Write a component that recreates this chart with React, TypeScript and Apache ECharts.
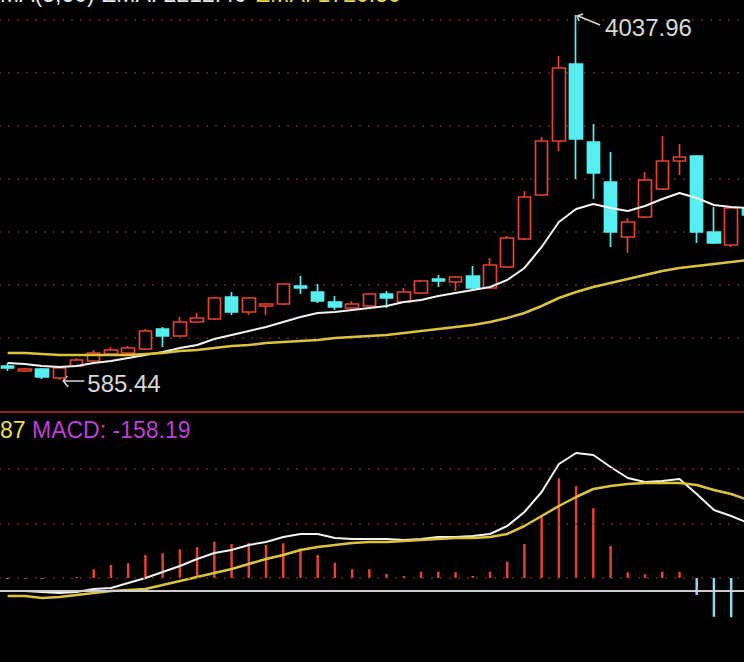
import React, { useEffect, useRef } from "react";
import * as echarts from "echarts";

// Monthly bars (Sep 2012 – Apr 2016)
const months = [
  "2012-09", "2012-10", "2012-11", "2012-12",
  "2013-01", "2013-02", "2013-03", "2013-04", "2013-05", "2013-06", "2013-07", "2013-08", "2013-09", "2013-10", "2013-11", "2013-12",
  "2014-01", "2014-02", "2014-03", "2014-04", "2014-05", "2014-06", "2014-07", "2014-08", "2014-09", "2014-10", "2014-11", "2014-12",
  "2015-01", "2015-02", "2015-03", "2015-04", "2015-05", "2015-06", "2015-07", "2015-08", "2015-09", "2015-10", "2015-11", "2015-12",
  "2016-01", "2016-02", "2016-03", "2016-04",
];

const opens = [
  717.9, 670.6, 689.5, 604.4, 717.9, 765.2, 831.4, 840.8, 878.7, 1067.9,
  1001.6, 1134.1, 1162.4, 1370.5, 1228.7, 1285.4, 1304.3, 1474.6, 1417.8, 1323.2,
  1266.5, 1285.4, 1398.9, 1323.2, 1408.4, 1540.8, 1512.4, 1569.2, 1455.7, 1654.3,
  1919.2, 2335.4, 2846.1, 3574.5, 2836.7, 2458.3, 1938.1, 2127.3, 2392.1, 2657.0,
  2704.3, 1985.4, 1862.4, 2212.4,
];
const closes = [
  699.0, 689.5, 613.8, 699.0, 774.6, 840.8, 869.2, 888.1, 1048.9, 1001.6,
  1134.1, 1171.9, 1361.1, 1228.7, 1361.1, 1304.3, 1493.5, 1455.7, 1332.7, 1276.0,
  1304.3, 1398.9, 1361.1, 1417.8, 1521.9, 1521.9, 1559.7, 1455.7, 1673.2, 1928.6,
  2316.4, 2846.1, 3536.6, 2865.1, 2543.5, 1985.4, 2080.0, 2477.2, 2657.0, 2694.8,
  1985.4, 1881.3, 2212.4, 2146.2,
];
const lows = [
  670.6, 661.1, 594.9, 585.44, 708.4, 755.7, 821.9, 831.4, 869.2, 897.6,
  992.2, 1124.6, 1153.0, 1200.3, 1200.3, 1200.3, 1294.9, 1398.9, 1313.8, 1247.6,
  1247.6, 1276.0, 1266.5, 1313.8, 1398.9, 1465.1, 1427.3, 1436.8, 1446.2, 1644.9,
  1909.7, 2325.9, 2751.6, 2486.7, 2297.5, 1843.5, 1786.7, 2117.8, 2382.7, 2524.5,
  1881.3, 1871.9, 1843.5, 2136.7,
];
const highs = [
  746.2, 699.0, 699.0, 708.4, 793.5, 869.2, 897.6, 907.0, 1067.9, 1086.8,
  1181.4, 1219.2, 1370.5, 1417.8, 1370.5, 1313.8, 1503.0, 1569.2, 1493.5, 1380.0,
  1332.7, 1408.4, 1427.3, 1455.7, 1531.3, 1578.6, 1569.2, 1663.8, 1739.4, 1947.5,
  2373.2, 2884.0, 3650.2, 4037.96, 3006.9, 2742.1, 2117.8, 2552.9, 2893.4, 2817.8,
  2713.7, 2221.9, 2221.9, 2231.3,
];

const emaShort = [
  746.2, 736.8, 717.9, 708.4, 717.9, 746.2, 765.2, 793.5, 821.9, 850.3,
  888.1, 916.5, 973.3, 1011.1, 1048.9, 1086.8, 1134.1, 1181.4, 1219.2, 1228.7,
  1247.6, 1266.5, 1285.4, 1323.2, 1342.2, 1380.0, 1408.4, 1436.8, 1465.1, 1531.3,
  1644.9, 1843.5, 2080.0, 2202.9, 2250.2, 2212.4, 2184.0, 2231.3, 2297.5, 2354.3,
  2307.0, 2240.8, 2221.9, 2212.4,
];
const emaLong = [
  840.8, 840.8, 831.4, 821.9, 821.9, 821.9, 821.9, 821.9, 831.4, 840.8,
  859.8, 869.2, 888.1, 907.0, 916.5, 935.4, 944.9, 954.3, 963.8, 982.7,
  992.2, 1001.6, 1011.1, 1030.0, 1048.9, 1067.9, 1086.8, 1105.7, 1134.1, 1171.9,
  1219.2, 1285.4, 1361.1, 1417.8, 1465.1, 1503.0, 1540.8, 1578.6, 1616.5, 1644.9,
  1663.8, 1682.7, 1701.6, 1720.5,
];

const dif = [
  -52, -52, -56, -60, -56, -44, -40, -20, 0, 24,
  48, 76, 100, 112, 132, 144, 164, 176, 176, 160,
  156, 156, 156, 152, 156, 164, 164, 168, 176, 208,
  264, 344, 456, 500, 492, 444, 400, 384, 388, 396,
  336, 272, 248, 220,
];
const dea = [
  -72, -72, -80, -76, -68, -60, -52, -48, -44, -28,
  -12, 4, 20, 36, 56, 76, 92, 112, 124, 132,
  140, 144, 144, 148, 152, 156, 160, 160, 164, 176,
  208, 248, 288, 324, 356, 368, 376, 380, 380, 380,
  372, 352, 336, 312,
];
const macd = [
  -3, -2, -3, 0, 4, 35, 52, 59, 92, 99,
  115, 123, 145, 136, 141, 132, 139, 119, 92, 61,
  35, 35, 16, 8, 25, 25, 23, 8, 25, 65,
  136, 245, 399, 368, 279, 128, 23, 15, 25, 25,
  -68, -155, -157, -158.19,
];

const macdGridLevels = [0, 218, 436];
const macdBaseLevel = -52;

const RED = "#e8412e";
const CYAN = "#56eef0";
const GRID = "#6e2626";
const FONT = "'Liberation Sans', Arial, sans-serif";

export default function App() {
  const ref = useRef<HTMLDivElement>(null);

  useEffect(() => {
    const chart = echarts.init(ref.current!, null, { renderer: "svg" });
    const candleData = months.map((_, i) => [opens[i], closes[i], lows[i], highs[i]]);
    const dotted = { color: GRID, type: [2, 7], width: 1.5 };
    const OX = 1; // inner div is shifted 1px to the left

    chart.setOption({
      animation: false,
      backgroundColor: "#000",
      grid: [
        { left: 0, right: 0, top: 20, height: 371 },
        { left: 0, right: 0, top: 412, height: 250 },
      ],
      xAxis: [
        { type: "category", data: months, gridIndex: 0, show: false, boundaryGap: true },
        { type: "category", data: months, gridIndex: 1, show: false, boundaryGap: true },
      ],
      yAxis: [
        { type: "value", gridIndex: 0, min: 481.4, max: 3990.7, show: false, splitLine: { show: false } },
        {
          type: "value", gridIndex: 0, min: 0, max: 7, interval: 1,
          axisLine: { show: false }, axisTick: { show: false }, axisLabel: { show: false },
          splitLine: { show: true, showMinLine: false, lineStyle: dotted },
        },
        { type: "value", gridIndex: 1, min: -336, max: 664, show: false, splitLine: { show: false } },
      ],
      series: [
        {
          type: "candlestick", xAxisIndex: 0, yAxisIndex: 0, data: candleData, barWidth: 13, clip: false,
          itemStyle: { color: "#000", color0: CYAN, borderColor: RED, borderColor0: CYAN, borderWidth: 1.7 },
        },
        {
          type: "line", xAxisIndex: 0, yAxisIndex: 0, data: emaShort, symbol: "none",
          lineStyle: { color: "#f4f4f4", width: 2 },
        },
        {
          type: "line", xAxisIndex: 0, yAxisIndex: 0, data: emaLong, symbol: "none",
          lineStyle: { color: "#dcc43a", width: 2.5 },
        },
        {
          type: "bar", xAxisIndex: 1, yAxisIndex: 2, barWidth: 2.5,
          data: macd.map((v) => ({ value: v, itemStyle: { color: v >= 0 ? RED : "#8cd8f0" } })),
          markLine: {
            silent: true, symbol: ["none", "none"], label: { show: false },
            data: [
              ...macdGridLevels.map((v) => ({ yAxis: v, lineStyle: dotted })),
              { yAxis: macdBaseLevel, lineStyle: { color: "#cfcfcf", type: "solid", width: 2 } },
            ],
          },
        },
        {
          type: "line", xAxisIndex: 1, yAxisIndex: 2, data: dif, symbol: "none",
          lineStyle: { color: "#f4f4f4", width: 2 },
        },
        {
          type: "line", xAxisIndex: 1, yAxisIndex: 2, data: dea, symbol: "none",
          lineStyle: { color: "#dcc43a", width: 2.5 },
        },
      ],
    });

    const hiIdx = highs.indexOf(Math.max(...highs));
    const loIdx = lows.indexOf(Math.min(...lows));
    const ph = chart.convertToPixel({ seriesIndex: 0 }, [hiIdx, highs[hiIdx]]) as number[];
    const pl = chart.convertToPixel({ seriesIndex: 0 }, [loIdx, lows[loIdx]]) as number[];
    const ann = { stroke: "#d8d8d8", lineWidth: 1.5, fill: null };
    const txt = (text: string, x: number, y: number, fill: string, size = 23) => ({
      type: "text", x, y,
      style: { text, fill, fontSize: size, fontFamily: FONT, verticalAlign: "middle" },
    });

    chart.setOption({
      graphic: [
        { type: "line", shape: { x1: 0, y1: 412, x2: 760, y2: 412 }, style: { stroke: "#9b1c1c", lineWidth: 2 } },
        txt(`MA(5,60) EMA: ${emaShort[emaShort.length - 1].toFixed(2)}`, OX, -6, "#e8e8e8"),
        txt(`EMA: ${emaLong[emaLong.length - 1].toFixed(2)}`, OX + 255, -6, "#e8d84a"),
        txt("87", OX, 430, "#e8e050"),
        txt(`MACD: ${macd[macd.length - 1].toFixed(2)}`, OX + 32, 430, "#c23cd6"),
        // high annotation
        { type: "line", shape: { x1: ph[0] + 2, y1: ph[1] + 1, x2: ph[0] + 24, y2: ph[1] + 10 }, style: ann },
        { type: "polyline", shape: { points: [[ph[0] + 3, ph[1] + 6], [ph[0] + 1, ph[1] + 1], [ph[0] + 7, ph[1] - 1]] }, style: ann },
        txt(highs[hiIdx].toFixed(2), ph[0] + 29, ph[1] + 12, "#d8d8d8", 24),
        // low annotation
        { type: "line", shape: { x1: pl[0] + 4, y1: pl[1] + 1, x2: pl[0] + 25, y2: pl[1] + 1 }, style: ann },
        { type: "polyline", shape: { points: [[pl[0] + 8, pl[1] - 4], [pl[0] + 4, pl[1] + 1], [pl[0] + 9, pl[1] + 7]] }, style: ann },
        txt(lows[loIdx].toFixed(2), pl[0] + 28, pl[1] + 3, "#d8d8d8", 24),
      ],
    });

    return () => chart.dispose();
  }, []);

  return (
    <div style={{ position: "fixed", left: 0, top: 0, width: 744, height: 662, overflow: "hidden", background: "#000" }}>
      <div ref={ref} style={{ position: "absolute", left: -1, top: 0, width: 758, height: 662 }} />
    </div>
  );
}
